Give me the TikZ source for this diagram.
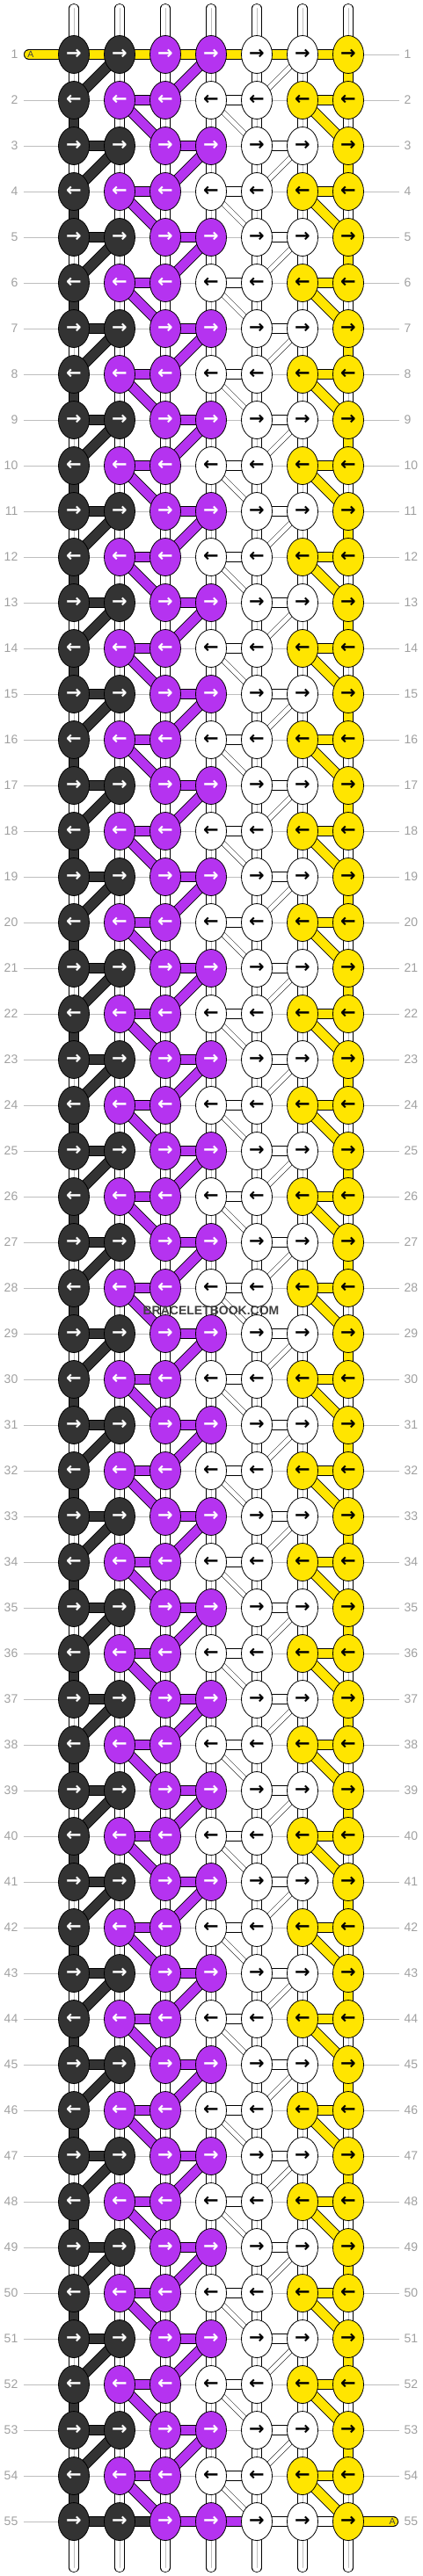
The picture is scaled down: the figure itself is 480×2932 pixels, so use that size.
\documentclass[tikz,border=0pt]{standalone}
\usepackage{fontspec}
\setmainfont{Liberation Sans}
\newfontfamily\arrowfont{DejaVu Sans}
\usetikzlibrary{shapes.geometric, backgrounds}
\definecolor{bbblack}{HTML}{333333}
\definecolor{bbpurple}{HTML}{B533F0}
\definecolor{bbyellow}{HTML}{FFE500}
\definecolor{bbgrey}{HTML}{A0A0A0}
\definecolor{bbline}{HTML}{BEBEBE}

\begin{document}
\begin{tikzpicture}[x=1pt,y=-1pt,
  knot/.style={draw=black,line width=.8pt,ellipse,minimum width=35pt,minimum height=43pt,inner sep=0pt,font=\arrowfont\bfseries\fontsize{21}{21}\selectfont},
  kB/.style={knot,fill=bbblack,text=white},
  kP/.style={knot,fill=bbpurple,text=white},
  kW/.style={knot,fill=white,text=black},
  kY/.style={knot,fill=bbyellow,text=black},
  rowlab/.style={inner sep=0pt,text=bbgrey,font=\fontsize{14}{14}\selectfont},
  rowline/.style={draw=bbline,line width=.8pt,shorten <=6pt,shorten >=6pt},
  bar/.style={draw=black,line width=.8pt,double distance=10.5pt},
  barB/.style={bar,double=bbblack},
  barP/.style={bar,double=bbpurple},
  barY/.style={bar,double=bbyellow},
  barW/.style={bar,double=white},
  wdiag/.style={draw=black,line width=.5pt,double=white,double distance=5pt},
  stub/.style={draw=black,line width=.8pt,double=white,double distance=9.5pt,postaction={draw=bbline,line width=.6pt}},
  tabtext/.style={inner sep=0pt,text=black!75,font=\fontsize{10.5}{10.5}\selectfont}]
\useasboundingbox (0,0) rectangle (480,2932);

% knots and row numbers
\foreach \r in {1,...,55} {
  \ifodd\r\relax
    \foreach \c/\s in {1/kB,2/kB,3/kP,4/kP,5/kW,6/kW,7/kY}
      \node[\s] (k-\r-\c) at ({32+52*\c},{10+52*\r}) {→};
  \else
    \foreach \c/\s in {1/kB,2/kP,3/kP,4/kW,5/kW,6/kY,7/kY}
      \node[\s] (k-\r-\c) at ({32+52*\c},{10+52*\r}) {←};
  \fi
  \node[rowlab,anchor=east] (l-\r) at (20.5,{10+52*\r}) {\r};
  \node[rowlab,anchor=west] (rr-\r) at (459.5,{10+52*\r}) {\r};
}

% the A string ends
\coordinate (tabL) at (33,62);
\coordinate (tabR) at (447,2870);
\node[tabtext] (aL) at (35,62) {A};
\node[tabtext] (aR) at (446,2870) {A};

\node[font=\bfseries\fontsize{14}{14}\selectfont,text=black!75] (wm) at (240,1492) {BRACELETBOOK.COM};

\begin{pgfonlayer}{background}
\foreach \r in {1,...,55}
  \draw[rowline] (l-\r) -- (rr-\r);

% loose ends top and bottom
\foreach \c in {1,...,7} {
  \coordinate (t-\c) at ({32+52*\c},9.5);
  \coordinate (b-\c) at ({32+52*\c},2922.5);
  \draw[stub,line cap=round] (t-\c) -- (k-1-\c.center);
  \draw[stub,line cap=round] (k-55-\c.center) -- (b-\c);
}

% between rows
\foreach \r in {1,...,54} {
  \pgfmathtruncatemacro\nx{\r+1}
  \foreach \c in {2,...,6}
    \draw[stub] (k-\r-\c.center) -- (k-\nx-\c.center);
  \ifodd\r\relax
    \draw[stub] (k-\r-1.center) -- (k-\nx-1.center);
    \draw[barY] (k-\r-7.center) -- (k-\nx-7.center);
    \draw[barB] (k-\r-2.center) -- (k-\nx-1.center);
    \draw[barP] (k-\r-4.center) -- (k-\nx-3.center);
    \draw[wdiag] (k-\r-6.center) -- (k-\nx-5.center);
  \else
    \draw[barB] (k-\r-1.center) -- (k-\nx-1.center);
    \draw[stub] (k-\r-7.center) -- (k-\nx-7.center);
    \draw[barP] (k-\r-2.center) -- (k-\nx-3.center);
    \draw[wdiag] (k-\r-4.center) -- (k-\nx-5.center);
    \draw[barY] (k-\r-6.center) -- (k-\nx-7.center);
  \fi
}

% inside rows
\foreach \r in {2,...,54} {
  \ifodd\r\relax
    \draw[barB] (k-\r-1.center) -- (k-\r-2.center);
    \draw[barP] (k-\r-3.center) -- (k-\r-4.center);
    \draw[barW] (k-\r-5.center) -- (k-\r-6.center);
  \else
    \draw[barP] (k-\r-2.center) -- (k-\r-3.center);
    \draw[barW] (k-\r-4.center) -- (k-\r-5.center);
    \draw[barY] (k-\r-6.center) -- (k-\r-7.center);
  \fi
}
\draw[barY,line cap=round] (tabL) -- (k-1-1.center) -- (k-1-2.center) -- (k-1-3.center)
  -- (k-1-4.center) -- (k-1-5.center) -- (k-1-6.center) -- (k-1-7.center);
\draw[barB] (k-55-1.center) -- (k-55-2.center) -- (k-55-3.center);
\draw[barP] (k-55-3.center) -- (k-55-4.center) -- (k-55-5.center);
\draw[barW] (k-55-5.center) -- (k-55-6.center) -- (k-55-7.center);
\draw[barY,line cap=round] (k-55-7.center) -- (tabR);
\end{pgfonlayer}
\end{tikzpicture}
\end{document}
